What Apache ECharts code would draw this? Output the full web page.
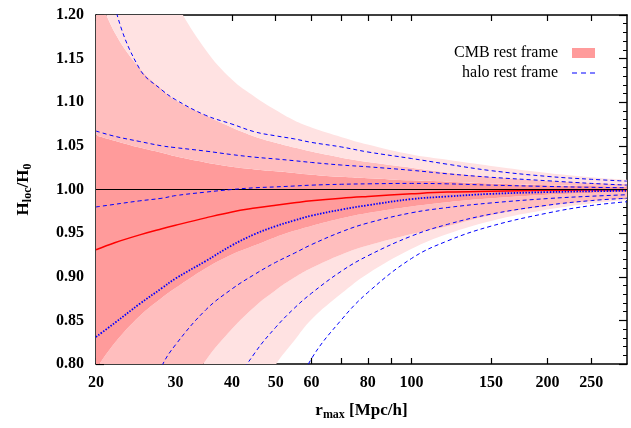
<!DOCTYPE html>
<html>
<head>
<meta charset="utf-8">
<script src="https://cdn.jsdelivr.net/npm/echarts@6/dist/echarts.min.js"></script>
<style>html,body{margin:0;padding:0;background:#fff}#c{width:631px;height:428px}</style>
</head>
<body>
<div id="c"></div>
<script>
// r_max [Mpc/h]
const r = [20,22,25,28,30,35,40,45,50,55,60,70,80,100,120,150,200,250,300];
// CMB rest frame: mean and 1/2/3-sigma bands
const cmbMean = [0.931,0.939,0.948,0.955,0.959,0.9675,0.9743,0.9787,0.982,0.9847,0.987,0.990,0.992,0.995,0.997,0.998,0.999,0.9993,0.9996];
const cmb1Lo = [0.794,0.824,0.855,0.876,0.887,0.9097,0.9255,0.936,0.9454,0.9526,0.9583,0.967,0.973,0.9806,0.9855,0.990,0.994,0.9959,0.997];
const cmb1Hi = [1.062,1.056,1.048,1.042,1.038,1.031,1.026,1.023,1.021,1.019,1.017,1.0145,1.013,1.0105,1.009,1.007,1.005,1.004,1.003];
const cmb2Lo = [0.61,0.64,0.685,0.725,0.75,0.804,0.840,0.866,0.8845,0.899,0.910,0.9256,0.9357,0.949,0.958,0.9705,0.981,0.9867,0.990];
const cmb2Hi = [1.23,1.18,1.139,1.115,1.1025,1.085,1.071,1.0605,1.0535,1.048,1.0435,1.0365,1.0315,1.025,1.0196,1.0147,1.010,1.0076,1.006];
const cmb3Lo = [0.43,0.46,0.50,0.54,0.57,0.64,0.70,0.755,0.799,0.827,0.851,0.881,0.9035,0.932,0.949,0.964,0.977,0.984,0.988];
const cmb3Hi = [1.45,1.39,1.31,1.25,1.215,1.160,1.126,1.106,1.091,1.079,1.071,1.060,1.0515,1.040,1.034,1.027,1.019,1.014,1.011];
// halo rest frame lines
const haloDot = [0.831,0.847,0.869,0.887,0.898,0.918,0.936,0.949,0.958,0.9645,0.970,0.977,0.982,0.989,0.992,0.995,0.997,0.998,0.9985];
const haloU1 = [1.067,1.061,1.055,1.050,1.048,1.044,1.040,1.037,1.035,1.033,1.031,1.028,1.026,1.022,1.018,1.014,1.010,1.007,1.005];
const haloU2 = [1.32,1.21,1.138,1.114,1.103,1.085,1.075,1.066,1.0615,1.058,1.054,1.0487,1.043,1.0355,1.029,1.0216,1.015,1.0117,1.0096];
const haloU3 = [0.980,0.983,0.987,0.990,0.993,0.997,1.000,1.002,1.003,1.004,1.005,1.006,1.0065,1.007,1.0065,1.005,1.0035,1.0025,1.002];
const haloL1 = [0.63,0.68,0.74,0.798,0.822,0.862,0.886,0.903,0.9165,0.927,0.9368,0.9516,0.9616,0.9733,0.9793,0.9846,0.9896,0.9923,0.994];
const haloL2 = [0.48,0.51,0.55,0.59,0.62,0.69,0.77,0.813,0.842,0.864,0.881,0.9066,0.924,0.9467,0.960,0.9718,0.982,0.9873,0.990];
const haloL3 = [0.27,0.30,0.34,0.39,0.42,0.50,0.58,0.65,0.71,0.763,0.806,0.851,0.882,0.921,0.941,0.958,0.973,0.9816,0.986];
// axis ticks
const xTicks = [20,30,40,50,60,70,80,90,100,150,200,250];
const xLabels = [20,30,40,50,60,80,100,150,200,250];

const C_DARK = '#ff9b9b', C_MED = '#ffbebe', C_LIGHT = '#ffe2e2';
const FONT = 'Liberation Serif';
const SMOOTH = 0.4;

const pts = arr => r.map((x, i) => [x, arr[i]]);
// stacked data as [value, r] so that the value column is the stacked one
const sv = arr => r.map((x, i) => [arr[i], x]);
const diff = (a, b) => r.map((x, i) => [a[i] - b[i], x]);

function band(name, data, color) {
  return {
    name: name, type: 'line', stack: 'cmb', data: data, encode: { x: 1, y: 0 },
    symbol: 'none', smooth: SMOOTH, silent: true, clip: true,
    lineStyle: { width: 0, opacity: 0 },
    itemStyle: { color: color },
    areaStyle: { color: color, opacity: 1 },
    z: 1
  };
}
function halo(name, data, dash, width) {
  return {
    name: name, type: 'line', data: data, symbol: 'none', smooth: SMOOTH,
    silent: true, clip: true, z: 5,
    itemStyle: { color: '#0000ff' },
    lineStyle: { color: '#0000ff', width: width, type: dash }
  };
}

const chart = echarts.init(document.getElementById('c'), null, { renderer: 'canvas' });
const tickCommon = { inside: true, lineStyle: { color: '#000', width: 1.2 } };
chart.setOption({
  animation: false,
  backgroundColor: '#fff',
  grid: { left: 96, right: 4, top: 15, bottom: 64, show: false },
  legend: {
    right: 31, top: 40, orient: 'vertical', align: 'right',
    itemWidth: 23, itemHeight: 10, itemGap: 4,
    textStyle: { fontFamily: FONT, fontSize: 16, color: '#000', padding: [0, 9, 0, 0] },
    data: [
      { name: 'CMB rest frame', icon: 'rect', itemStyle: { color: C_DARK } },
      { name: 'halo rest frame', icon: 'path://M0,0h5v1h-5z M9,0h5v1h-5z M18,0h5v1h-5z', itemStyle: { color: '#0000ff' } }
    ],
    selectedMode: false
  },
  xAxis: [{
    type: 'log', logBase: 10, min: 20, max: 300, position: 'bottom',
    axisLine: { lineStyle: { color: '#000', width: 1.5 } },
    axisTick: Object.assign({ length: 6, customValues: xTicks }, tickCommon),
    axisLabel: { customValues: xLabels, margin: 11, fontFamily: FONT, fontSize: 16, fontWeight: 'bold', color: '#000',
      formatter: v => String(Math.round(v)) },
    splitLine: { show: false }, minorTick: { show: false },
    name: '{b|r}{s|max}{b| [Mpc/h]}', nameLocation: 'middle', nameGap: 36,
    nameTextStyle: { rich: {
      b: { fontFamily: FONT, fontSize: 17, fontWeight: 'bold', color: '#000' },
      s: { fontFamily: FONT, fontSize: 12, fontWeight: 'bold', color: '#000', padding: [9, 0, 0, 0] }
    } }
  }, {
    type: 'log', logBase: 10, min: 20, max: 300, position: 'top',
    axisLine: { lineStyle: { color: '#000', width: 1.5 } },
    axisTick: Object.assign({ length: 6, customValues: xTicks }, tickCommon),
    axisLabel: { show: false }, splitLine: { show: false }
  }],
  yAxis: [{
    type: 'value', min: 0.8, max: 1.2, interval: 0.05, position: 'left',
    axisLine: { show: true, lineStyle: { color: '#000', width: 1.5 } },
    axisTick: Object.assign({ length: 8 }, tickCommon),
    minorTick: { show: true, splitNumber: 5, length: 4, lineStyle: { color: '#000', width: 1 } },
    axisLabel: { margin: 12, fontFamily: FONT, fontSize: 16, fontWeight: 'bold', color: '#000',
      formatter: v => v.toFixed(2) },
    splitLine: { show: false },
    name: '{b|H}{s|loc}{b|/H}{s|0}', nameLocation: 'middle', nameGap: 62, nameRotate: 90,
    nameTextStyle: { rich: {
      b: { fontFamily: FONT, fontSize: 17, fontWeight: 'bold', color: '#000' },
      s: { fontFamily: FONT, fontSize: 12, fontWeight: 'bold', color: '#000', padding: [9, 0, 0, 0] }
    } }
  }, {
    type: 'value', min: 0.8, max: 1.2, interval: 0.05, position: 'right',
    axisLine: { show: true, lineStyle: { color: '#000', width: 1.5 } },
    axisTick: Object.assign({ length: 8 }, tickCommon),
    minorTick: { show: true, splitNumber: 5, length: 4, lineStyle: { color: '#000', width: 1 } },
    axisLabel: { show: false }, splitLine: { show: false }
  }],
  series: [
    {
      name: '_base', type: 'line', stack: 'cmb', data: sv(cmb3Lo), encode: { x: 1, y: 0 },
      symbol: 'none', smooth: SMOOTH, silent: true, lineStyle: { width: 0, opacity: 0 }, z: 1
    },
    band('_l3lo', diff(cmb2Lo, cmb3Lo), C_LIGHT),
    band('_l2lo', diff(cmb1Lo, cmb2Lo), C_MED),
    band('CMB rest frame', diff(cmb1Hi, cmb1Lo), C_DARK),
    band('_l2hi', diff(cmb2Hi, cmb1Hi), C_MED),
    band('_l3hi', diff(cmb3Hi, cmb2Hi), C_LIGHT),
    {
      name: '_mean', type: 'line', data: pts(cmbMean), symbol: 'none', smooth: SMOOTH, silent: true, z: 4,
      lineStyle: { color: '#ff0000', width: 1.5 },
      markLine: { silent: true, symbol: 'none', label: { show: false },
        lineStyle: { color: '#000', width: 1.2, type: 'solid' }, data: [{ yAxis: 1 }] }
    },
    halo('halo rest frame', pts(haloU1), [4, 3], 1),
    halo('_u2', pts(haloU2), [4, 3], 1),
    halo('_u3', pts(haloU3), [4, 3], 1),
    halo('_l1', pts(haloL1), [4, 3], 1),
    halo('_l2', pts(haloL2), [4, 3], 1),
    halo('_l3', pts(haloL3), [4, 3], 1),
    halo('_dot', pts(haloDot), [1.5, 1.5], 1.8)
  ]
});
</script>
</body>
</html>
